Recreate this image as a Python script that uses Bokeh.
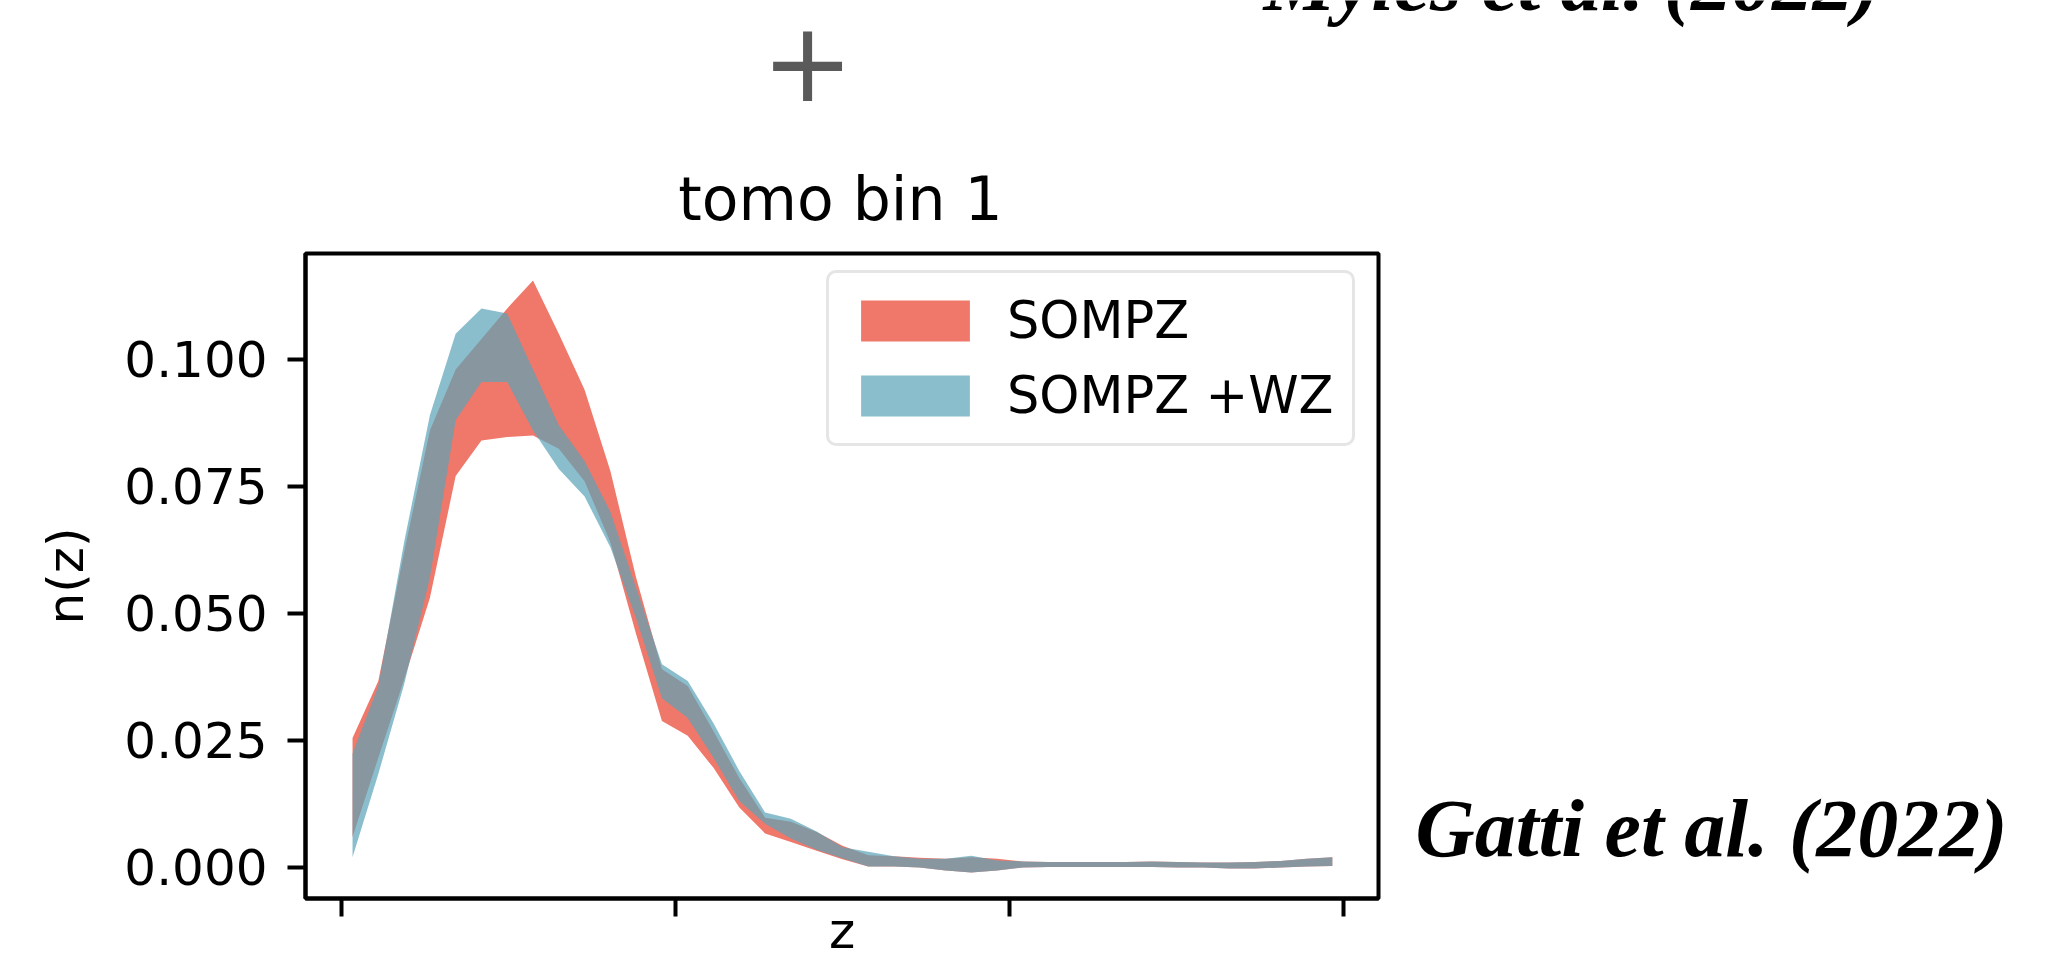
from bokeh.plotting import figure
from bokeh.layouts import column, row
from bokeh.models import Range1d, FixedTicker, NumeralTickFormatter
from bokeh.core.properties import value
from bokeh.embed import file_html
from bokeh.resources import INLINE

# ---------------- data ----------------
z = [0.0165, 0.0551, 0.0937, 0.1323, 0.1709, 0.2095, 0.2481, 0.2867, 0.3253, 0.3639,
     0.4025, 0.4411, 0.4797, 0.5183, 0.5569, 0.5955, 0.6341, 0.6727, 0.7113, 0.7499,
     0.7885, 0.8271, 0.8657, 0.9043, 0.9429, 0.9815, 1.0201, 1.0587, 1.0973, 1.1359,
     1.1745, 1.2131, 1.2517, 1.2903, 1.3289, 1.3675, 1.4061, 1.4447, 1.4833]

sompz_lo = [0.0060, 0.0216, 0.0370, 0.0530, 0.0770, 0.0840, 0.0847, 0.0850, 0.0824, 0.0760,
            0.0640, 0.0459, 0.0288, 0.0259, 0.0196, 0.0118, 0.0067, 0.0050, 0.0033, 0.0016,
            0.0002, 0.0002, 0.0000, -0.0006, -0.0010, -0.0006, 0.0000, 0.0001, 0.0001, 0.0001,
            0.0001, 0.0001, 0.0000, 0.0000, -0.0002, -0.0002, 0.0000, 0.0002, 0.0003]
sompz_hi = [0.0255, 0.0367, 0.0620, 0.0860, 0.0980, 0.1040, 0.1100, 0.1155, 0.1050, 0.0940,
            0.0780, 0.0570, 0.0390, 0.0357, 0.0268, 0.0176, 0.0098, 0.0090, 0.0070, 0.0043,
            0.0024, 0.0022, 0.0019, 0.0017, 0.0020, 0.0017, 0.0012, 0.0011, 0.0011, 0.0011,
            0.0011, 0.0012, 0.0011, 0.0010, 0.0010, 0.0011, 0.0013, 0.0017, 0.0020]

wz_lo = [0.0020, 0.0184, 0.0360, 0.0570, 0.0880, 0.0955, 0.0955, 0.0860, 0.0784, 0.0730,
         0.0630, 0.0490, 0.0333, 0.0294, 0.0216, 0.0131, 0.0086, 0.0057, 0.0035, 0.0018,
         0.0002, 0.0002, 0.0000, -0.0006, -0.0010, -0.0006, 0.0000, 0.0001, 0.0001, 0.0001,
         0.0001, 0.0001, 0.0000, 0.0000, -0.0002, -0.0002, 0.0000, 0.0002, 0.0003]
wz_hi = [0.0224, 0.0357, 0.0640, 0.0890, 0.1050, 0.1100, 0.1090, 0.0980, 0.0870, 0.0800,
         0.0700, 0.0550, 0.0400, 0.0367, 0.0284, 0.0190, 0.0108, 0.0096, 0.0071, 0.0040,
         0.0031, 0.0022, 0.0017, 0.0017, 0.0023, 0.0014, 0.0012, 0.0011, 0.0011, 0.0011,
         0.0011, 0.0012, 0.0011, 0.0010, 0.0010, 0.0011, 0.0013, 0.0017, 0.0020]

series_names = ["SOMPZ", "SOMPZ +WZ"]
x_ticks = [0.0, 0.5, 1.0, 1.5]
y_ticks = [0.0, 0.025, 0.05, 0.075, 0.1]
y_tick_labels = ["0.000", "0.025", "0.050", "0.075", "0.100"]

title_text = "tomo bin 1"
x_label = "z"
y_label = "n(z)"
ref_top = "Myles et al. (2022)"
ref_bottom = "Gatti et al. (2022)"
plus_sign = "+"

# ---------------- layout constants (pixels) ----------------
W, H = 2060, 962
TOP_H = 240          # band above the plot (title, "+", top reference)
MID_H = H - TOP_H
MAIN_W = 1395
RIGHT_W = W - MAIN_W
FL, FR = 305, 1378   # frame left/right (global px)
FT, FB = 253, 900    # frame top/bottom (global px)
X0, X1 = -0.0539, 1.5524
Y0, Y1 = -0.0061, 0.1208

RED = "#F0786A"
BLUE = "#5AA2B6"
FONT = "DejaVu Sans"
SERIF = "Liberation Serif"


def text_panel(w, h):
    f = figure(width=w, height=h, x_range=Range1d(0, w), y_range=Range1d(h, 0),
               output_backend="svg", toolbar_location=None,
               x_axis_location=None, y_axis_location=None, min_border=0)
    f.outline_line_color = None
    f.background_fill_color = "white"
    f.border_fill_color = "white"
    f.grid.visible = False
    return f


# ---------------- top band ----------------
top = text_panel(W, TOP_H)
top.text(x=[840], y=[198], text=[title_text], text_align="center",
         text_baseline="alphabetic", text_font=value(FONT),
         text_font_size=value("60px"), text_color="black")
top.text(x=[807], y=[60], text=[plus_sign], text_align="center",
         text_baseline="alphabetic", text_font=value(FONT),
         text_font_size=value("110px"), text_color="#5a5a5a")
top.text(x=[1263], y=[-18], text=[ref_top], text_align="left",
         text_baseline="alphabetic", text_font=value(SERIF),
         text_font_style="bold italic", text_font_size=value("81px"),
         text_color="black")

# ---------------- main plot ----------------
p = figure(width=MAIN_W, height=MID_H, x_range=Range1d(X0, X1), y_range=Range1d(Y0, Y1),
           output_backend="svg", toolbar_location=None,
           min_border_left=FL, min_border_right=MAIN_W - FR,
           min_border_top=FT - TOP_H, min_border_bottom=H - FB)
p.background_fill_color = "white"
p.border_fill_color = "white"
p.outline_line_color = "black"
p.outline_line_width = 4
p.outline_line_alpha = 1
p.xgrid.visible = False
p.ygrid.visible = False

p.varea(x=z, y1=sompz_lo, y2=sompz_hi, fill_color=RED, fill_alpha=1.0,
        legend_label=series_names[0])
p.varea(x=z, y1=wz_lo, y2=wz_hi, fill_color=BLUE, fill_alpha=0.7,
        legend_label=series_names[1])

for ax in (p.xaxis[0], p.yaxis[0]):
    ax.axis_line_width = 4
    ax.axis_line_color = "black"
    ax.major_tick_line_width = 4
    ax.major_tick_line_color = "black"
    ax.major_tick_out = 18
    ax.major_tick_in = 0
    ax.minor_tick_out = 0
    ax.minor_tick_in = 0

p.xaxis.ticker = FixedTicker(ticks=x_ticks)
p.xaxis.major_label_text_font_size = "1px"
p.xaxis.major_label_text_color = None
p.xaxis.major_label_standoff = 0
p.xaxis.axis_label = x_label
p.xaxis.axis_label_text_font = FONT
p.xaxis.axis_label_text_font_size = "50px"
p.xaxis.axis_label_text_font_style = "normal"
p.xaxis.axis_label_text_color = "black"
p.xaxis.axis_label_standoff = -15

p.yaxis.ticker = FixedTicker(ticks=y_ticks)
p.yaxis.formatter = NumeralTickFormatter(format="0.000")
p.yaxis.major_label_overrides = {t: s for t, s in zip(y_ticks, y_tick_labels)}
p.yaxis.major_label_text_font = FONT
p.yaxis.major_label_text_font_size = "50px"
p.yaxis.major_label_text_color = "black"
p.yaxis.major_label_standoff = 20
p.yaxis.axis_label = y_label
p.yaxis.axis_label_text_font = FONT
p.yaxis.axis_label_text_font_size = "50px"
p.yaxis.axis_label_text_font_style = "normal"
p.yaxis.axis_label_text_color = "black"
p.yaxis.axis_label_standoff = 26

leg = p.legend[0]
LEG_PAD, LEG_SPACING, LEG_ITEM_H = 18, 16, 60
leg_h = 2 * LEG_PAD + 2 * LEG_ITEM_H + LEG_SPACING
leg_left, leg_top = 826, 276
leg.location = (leg_left - FL, FB - (leg_top + leg_h))
leg.padding = LEG_PAD
leg.spacing = LEG_SPACING
leg.glyph_width = 136
leg.glyph_height = 51
leg.label_standoff = 24
leg.label_text_font = FONT
leg.label_text_font_size = "51px"
leg.label_text_color = "black"
leg.border_line_color = "#cccccc"
leg.border_line_width = 3
leg.border_radius = 10
leg.background_fill_color = "white"
leg.background_fill_alpha = 0.8

# ---------------- right band ----------------
right = text_panel(RIGHT_W, MID_H)
right.text(x=[1415 - MAIN_W], y=[644], text=[ref_bottom], text_align="left",
           text_baseline="alphabetic", text_font=value(SERIF),
           text_font_style="bold italic", text_font_size=value("82px"),
           text_color="black")

layout = column(top, row(p, right, spacing=0), spacing=0)

open("out.html", "w").write(file_html(layout, INLINE))
